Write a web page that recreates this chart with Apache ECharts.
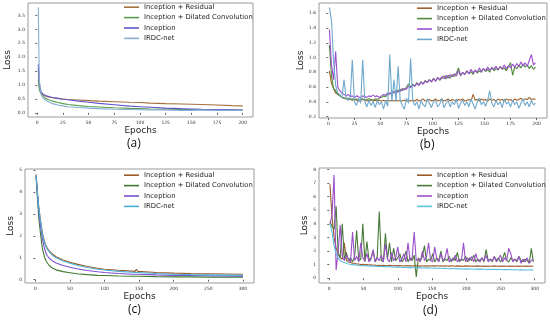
<!DOCTYPE html>
<html><head><meta charset="utf-8">
<script src="https://cdn.jsdelivr.net/npm/echarts@6/dist/echarts.min.js"></script>
<style>html,body{margin:0;padding:0;background:#fff}#c{width:550px;height:320px}</style>
</head><body><div id="c"></div>
<script>
// ---------- DATA ----------
const names = ['Inception + Residual','Inception + Dilated Convolution','Inception','IRDC-net'];

// (a)
const aEpochs = [1,2,3,4,5,6,8,10,12,15,20,25,30,40,50,60,75,90,100,110,125,140,150,160,175,190,200];
const aResidual = [1.6,0.95,0.78,0.7,0.66,0.63,0.6,0.58,0.56,0.54,0.52,0.5,0.48,0.46,0.44,0.42,0.4,0.38,0.37,0.35,0.33,0.32,0.31,0.3,0.28,0.26,0.25];
const aDilated  = [1.2,0.85,0.72,0.65,0.6,0.56,0.52,0.49,0.46,0.42,0.37,0.33,0.3,0.26,0.23,0.21,0.18,0.16,0.15,0.14,0.13,0.12,0.12,0.11,0.11,0.1,0.1];
const aInception= [1.75,1.1,0.85,0.75,0.7,0.66,0.62,0.6,0.58,0.55,0.52,0.49,0.47,0.42,0.38,0.34,0.29,0.24,0.22,0.2,0.17,0.15,0.14,0.13,0.12,0.11,0.1];
const aIRDC     = [3.8,1.2,0.8,0.65,0.58,0.52,0.46,0.42,0.38,0.33,0.28,0.25,0.22,0.19,0.17,0.15,0.13,0.12,0.11,0.1,0.1,0.09,0.09,0.1,0.09,0.09,0.09];

// (b)
const bEpochs = [1,3,5,7,9,11,13,15,17,19,21,23,25,27,29,31,33,35,37,39,41,43,45,47,49,51,53,55,57,59,61,63,65,67,69,71,73,75,77,79,81,83,85,87,89,91,93,95,97,99,101,103,105,107,109,111,113,115,117,119,121,123,125,127,129,131,133,135,137,139,141,143,145,147,149,151,153,155,157,159,161,163,165,167,169,171,173,175,177,179,181,183,185,187,189,191,193,195,197,199];
const bResidual = [0.82,0.65,0.58,0.52,0.50,0.48,0.46,0.45,0.44,0.43,
0.43,0.42,0.43,0.42,0.41,0.42,0.43,0.42,0.41,0.42,
0.42,0.41,0.42,0.41,0.42,0.41,0.42,0.41,0.42,0.41,
0.42,0.41,0.42,0.41,0.42,0.41,0.42,0.41,0.42,0.41,
0.42,0.41,0.43,0.41,0.42,0.44,0.41,0.42,0.43,0.41,
0.42,0.44,0.41,0.42,0.43,0.41,0.42,0.44,0.41,0.43,
0.42,0.41,0.43,0.42,0.44,0.41,0.42,0.43,0.41,0.50,
0.42,0.43,0.41,0.44,0.42,0.43,0.41,0.44,0.42,0.43,
0.41,0.44,0.42,0.43,0.41,0.44,0.42,0.43,0.41,0.44,
0.42,0.43,0.45,0.42,0.44,0.43,0.46,0.43,0.44,0.43];
const bDilated = [1.17,0.75,0.58,0.55,0.50,0.48,0.46,0.45,0.44,0.45,
0.43,0.44,0.43,0.44,0.42,0.43,0.44,0.42,0.43,0.44,
0.43,0.42,0.44,0.43,0.45,0.46,0.48,0.47,0.50,0.52,
0.50,0.54,0.52,0.56,0.54,0.58,0.56,0.60,0.64,0.60,
0.64,0.61,0.66,0.63,0.67,0.64,0.69,0.66,0.70,0.67,
0.72,0.68,0.73,0.69,0.72,0.75,0.71,0.76,0.72,0.77,
0.74,0.79,0.86,0.75,0.80,0.77,0.82,0.78,0.81,0.77,
0.83,0.79,0.82,0.80,0.85,0.81,0.84,0.80,0.87,0.82,
0.85,0.83,0.88,0.84,0.86,0.82,0.88,0.93,0.76,0.87,
0.85,0.89,0.86,0.91,0.87,0.90,0.85,0.89,0.84,0.87];
const bInception = [1.38,0.90,0.70,1.08,0.60,0.55,0.52,0.50,0.48,0.50,
0.47,0.48,0.46,0.48,0.47,0.45,0.48,0.47,0.46,0.48,
0.47,0.49,0.47,0.48,0.46,0.48,0.50,0.49,0.52,0.50,
0.54,0.52,0.55,0.53,0.57,0.55,0.58,0.57,0.61,0.59,
0.63,0.61,0.65,0.62,0.67,0.64,0.68,0.66,0.70,0.67,
0.71,0.68,0.73,0.70,0.74,0.71,0.76,0.72,0.77,0.74,
0.78,0.75,0.82,0.76,0.80,0.77,0.82,0.78,0.84,0.79,
0.83,0.80,0.86,0.81,0.85,0.82,0.87,0.83,0.86,0.84,
0.88,0.84,0.87,0.85,0.90,0.85,0.89,0.86,0.91,0.87,
0.92,0.88,0.94,0.89,0.93,0.88,0.96,1.04,0.90,0.93];
const bIRDC = [1.68,1.50,0.95,0.62,0.52,0.50,0.45,0.70,0.45,0.42,
0.45,0.97,0.40,0.35,0.45,0.38,0.97,0.40,0.33,0.42,
0.35,0.40,0.32,0.42,0.36,0.40,0.30,0.42,0.34,1.04,
0.40,0.70,0.40,0.88,0.42,0.35,0.30,0.45,0.38,0.99,
0.42,0.35,0.40,0.30,0.42,0.36,0.33,0.44,0.38,0.32,
0.40,0.42,0.33,0.37,0.45,0.32,0.38,0.42,0.33,0.40,
0.36,0.44,0.31,0.38,0.42,0.35,0.40,0.33,0.44,0.37,
0.30,0.40,0.45,0.36,0.40,0.34,0.42,0.55,0.38,0.33,
0.42,0.36,0.40,0.32,0.44,0.37,0.40,0.33,0.42,0.36,
0.40,0.31,0.38,0.44,0.35,0.40,0.33,0.42,0.36,0.38];

// (c)
const cEpochs = [1,2,3,5,7,10,13,16,20,25,30,40,50,60,75,90,100,120,140,144,146,148,175,200,225,250,275,300];
const cResidual = [4.8,4.4,4.0,3.3,2.8,2.15,1.75,1.5,1.32,1.16,1.05,0.9,0.8,0.71,0.6,0.52,0.48,0.43,0.39,0.38,0.48,0.38,0.33,0.3,0.28,0.27,0.26,0.25];
const cDilated  = [4.7,4.2,3.7,2.8,2.2,1.45,1.05,0.82,0.65,0.52,0.45,0.37,0.32,0.27,0.23,0.2,0.19,0.17,0.16,0.16,0.16,0.16,0.14,0.13,0.13,0.12,0.12,0.12];
const cInception= [4.75,4.3,3.9,3.1,2.55,1.9,1.45,1.15,0.98,0.85,0.76,0.65,0.57,0.5,0.42,0.36,0.33,0.28,0.25,0.25,0.25,0.25,0.22,0.2,0.19,0.18,0.17,0.16];
const cIRDC     = [4.75,4.35,3.95,3.25,2.75,2.1,1.7,1.45,1.27,1.1,1.0,0.85,0.75,0.66,0.56,0.48,0.44,0.38,0.34,0.33,0.33,0.33,0.28,0.25,0.23,0.22,0.21,0.2];

// (d)
const dEpochs = [1,4,7,10,13,16,19,22,25,28,31,34,37,40,43,46,49,52,55,58,61,64,67,70,73,76,79,82,85,88,91,94,97,100,103,106,109,112,115,118,121,124,127,130,133,136,139,142,145,148,151,154,157,160,163,166,169,172,175,178,181,184,187,190,193,196,199,202,205,208,211,214,217,220,223,226,229,232,235,238,241,244,247,250,253,256,259,262,265,268,271,274,277,280,283,286,289,292,295,298];
const dResidual = [6.9,4.5,3.0,2.2,1.8,1.5,1.4,2.6,1.3,1.2,
1.15,1.1,1.1,1.05,1.05,1.0,1.02,0.98,1.0,0.97,
0.98,0.95,0.97,0.94,0.96,0.93,0.95,0.94,0.92,0.95,
0.93,0.92,0.94,0.91,0.93,0.92,0.9,0.93,0.91,0.92,
0.9,0.92,0.91,0.89,0.92,0.9,0.91,0.89,0.92,0.9,
0.91,0.89,0.92,0.9,0.91,0.88,0.91,0.9,0.89,0.92,
0.9,0.88,0.91,0.89,0.9,0.88,0.91,0.89,0.9,0.88,
0.9,0.89,0.91,0.88,0.9,0.89,0.87,0.9,0.88,0.89,
0.91,0.88,0.9,0.87,0.89,0.9,0.88,0.89,0.87,0.9,
0.88,0.89,0.87,0.9,0.88,0.89,0.87,0.9,0.88,0.89];
const dDilated = [4.2,3.8,3.6,5.3,1.8,1.5,4.0,1.4,1.9,1.3,
1.5,1.2,1.6,3.5,1.3,1.4,4.0,1.2,2.7,1.3,
1.5,2.0,1.2,1.6,4.9,1.3,1.2,3.3,1.4,2.6,
1.2,2.2,1.3,1.5,1.8,1.2,1.4,2.0,1.2,1.5,
1.3,1.7,0.1,1.5,1.3,1.6,2.4,1.2,1.4,1.3,
1.8,1.2,1.5,1.3,2.0,1.2,1.4,1.3,1.6,1.2,
1.5,1.3,1.9,1.2,1.4,1.3,1.6,1.2,1.5,1.3,
1.7,1.2,1.4,1.3,1.5,1.2,2.1,1.3,1.4,1.2,
1.6,1.3,1.5,1.2,1.4,1.9,1.3,1.2,1.5,1.3,
1.4,1.2,1.6,1.3,1.2,1.4,1.3,1.1,2.2,1.2];
const dInception = [4.0,4.6,7.6,0.6,2.0,3.9,1.6,1.3,1.7,1.4,
1.2,3.4,1.3,1.6,1.2,2.6,1.5,1.3,1.8,1.2,
1.4,2.1,1.2,1.5,1.3,1.7,1.2,2.5,1.4,1.2,
1.9,1.3,1.5,2.3,1.2,1.4,1.8,1.2,2.6,1.3,
1.5,3.4,1.3,1.4,1.2,2.0,1.3,1.6,2.6,1.3,
1.2,2.3,1.4,1.2,1.8,1.3,1.5,2.2,1.2,1.4,
1.3,1.7,1.2,1.4,1.3,2.6,1.2,1.5,1.3,1.6,
1.2,1.8,1.3,1.2,1.5,1.3,1.7,1.2,1.4,1.3,
1.6,1.2,1.4,1.7,1.2,1.5,1.3,2.2,1.8,1.2,
1.4,1.3,1.6,1.1,1.4,1.2,1.5,1.1,1.3,1.4];
const dIRDC = [4.0,3.4,2.4,1.8,1.5,1.3,1.2,1.15,1.1,1.05,
1.02,1.0,0.98,0.96,0.95,0.93,0.92,0.93,0.9,0.91,
0.89,0.9,0.88,0.87,0.88,0.86,0.85,0.87,0.84,0.85,
0.83,0.84,0.82,0.8,0.82,0.8,0.79,0.81,0.78,0.8,
0.78,0.77,0.79,0.76,0.78,0.75,0.77,0.74,0.76,0.75,
0.73,0.75,0.72,0.74,0.73,0.71,0.73,0.72,0.7,0.72,
0.7,0.71,0.69,0.7,0.68,0.7,0.69,0.67,0.69,0.68,
0.66,0.68,0.67,0.65,0.67,0.66,0.64,0.66,0.65,0.64,
0.66,0.63,0.65,0.64,0.62,0.64,0.63,0.62,0.64,0.61,
0.63,0.62,0.61,0.63,0.6,0.62,0.61,0.6,0.62,0.6];

// tick labels
const aXTicks = [0,25,50,75,100,125,150,175,200];
const aYTicks = [0,0.5,1,1.5,2,2.5,3,3.5];
const bXTicks = [0,25,50,75,100,125,150,175,200];
const bYTicks = [0.2,0.4,0.6,0.8,1.0,1.2,1.4,1.6];
const cXTicks = [0,50,100,150,200,250,300];
const cYTicks = [0,1,2,3,4,5];
const dXTicks = [0,50,100,150,200,250,300];
const dYTicks = [0,1,2,3,4,5,6,7,8];
const captions = ['(a)','(b)','(c)','(d)'];

// ---------- CHART ----------
const panels = [
  {E:aEpochs, S:[aResidual,aDilated,aInception,aIRDC], xt:aXTicks, yt:aYTicks, yfmt:1,
   grid:{left:28,top:3,width:225,height:114}, x:[-9,210], y:[-0.15,3.95],
   colors:['#a5703f','#5a9e4b','#5d56c9','#86acd6'], leg:{left:124,top:2}, yGap:16, cap:[136,146]},
  {E:bEpochs, S:[bResidual,bDilated,bInception,bIRDC], xt:bXTicks, yt:bYTicks, yfmt:1,
   grid:{left:319,top:3,width:228,height:115}, x:[-9,210], y:[0.18,1.74],
   colors:['#a0622d','#4e8a3a','#9b4fd0','#6fa8cc'], leg:{left:417,top:3}, yGap:14, cap:[429,147]},
  {E:cEpochs, S:[cResidual,cDilated,cInception,cIRDC], xt:cXTicks, yt:cYTicks, yfmt:0,
   grid:{left:25,top:169,width:229,height:114}, x:[-15,316], y:[-0.15,5.05],
   colors:['#9a5a28','#3f7a2f','#7a4fd0','#4cb0d8'], leg:{left:124,top:170}, yGap:9, cap:[137,312]},
  {E:dEpochs, S:[dResidual,dDilated,dInception,dIRDC], xt:dXTicks, yt:dYTicks, yfmt:0,
   grid:{left:319,top:168,width:226,height:115}, x:[-15,315], y:[-0.35,8.1],
   colors:['#9a5a2a','#4a7a3a','#9a50c8','#5cc0e0'], leg:{left:417,top:170}, yGap:10, cap:[432,313]}
];

const FONT = 'DejaVu Sans';
const grid = [], xAxis = [], yAxis = [], series = [], legend = [], graphic = [];
panels.forEach((p, i) => {
  grid.push(Object.assign({show:true, borderColor:'#9a9a9a', borderWidth:1, containLabel:false}, p.grid));
  xAxis.push({type:'value', gridIndex:i, min:p.x[0], max:p.x[1],
    name:'Epochs', nameLocation:'middle', nameGap:6,
    nameTextStyle:{fontFamily:FONT, fontSize:9, color:'#222'},
    axisLine:{show:false}, splitLine:{show:false},
    axisTick:{show:true, customValues:p.xt, length:2, lineStyle:{color:'#666'}},
    axisLabel:{customValues:p.xt, fontSize:4.5, margin:3, color:'#333', fontFamily:FONT, hideOverlap:false}
  });
  yAxis.push({type:'value', gridIndex:i, min:p.y[0], max:p.y[1],
    name:'Loss', nameLocation:'middle', nameGap:p.yGap, nameRotate:90,
    nameTextStyle:{fontFamily:FONT, fontSize:9, color:'#222'},
    axisLine:{show:false}, splitLine:{show:false},
    axisTick:{show:true, customValues:p.yt, length:2, lineStyle:{color:'#666'}},
    axisLabel:{customValues:p.yt, fontSize:4.5, margin:3, color:'#333', fontFamily:FONT, hideOverlap:false,
      formatter:(v)=>Number(v).toFixed(p.yfmt)}
  });
  p.S.forEach((vals, k) => {
    series.push({type:'line', name:names[k], xAxisIndex:i, yAxisIndex:i,
      data: p.E.map((e, j) => [e, vals[j]]),
      showSymbol:false, symbol:'none', animation:false,
      lineStyle:{color:p.colors[k], width:1.1}, itemStyle:{color:p.colors[k]}, z:2+k});
  });
  legend.push({orient:'vertical', left:p.leg.left, top:p.leg.top, padding:0, itemGap:0,
    itemWidth:15, itemHeight:1.6, icon:'rect', selectedMode:false,
    textStyle:{fontFamily:FONT, fontSize:6.8, color:'#222', lineHeight:10.4},
    data: names.map((n,k)=>({name:n, itemStyle:{color:p.colors[k]}}))});
  graphic.push({type:'text', left:p.cap[0]-9, top:p.cap[1]-8,
    style:{text:captions[i], font:'12px "Open Sans"', fill:'#111'}});
});

const chart = echarts.init(document.getElementById('c'), null, {renderer:'canvas'});
chart.setOption({animation:false, backgroundColor:'#fff', grid, xAxis, yAxis, series, legend, graphic});
</script>
</body></html>
